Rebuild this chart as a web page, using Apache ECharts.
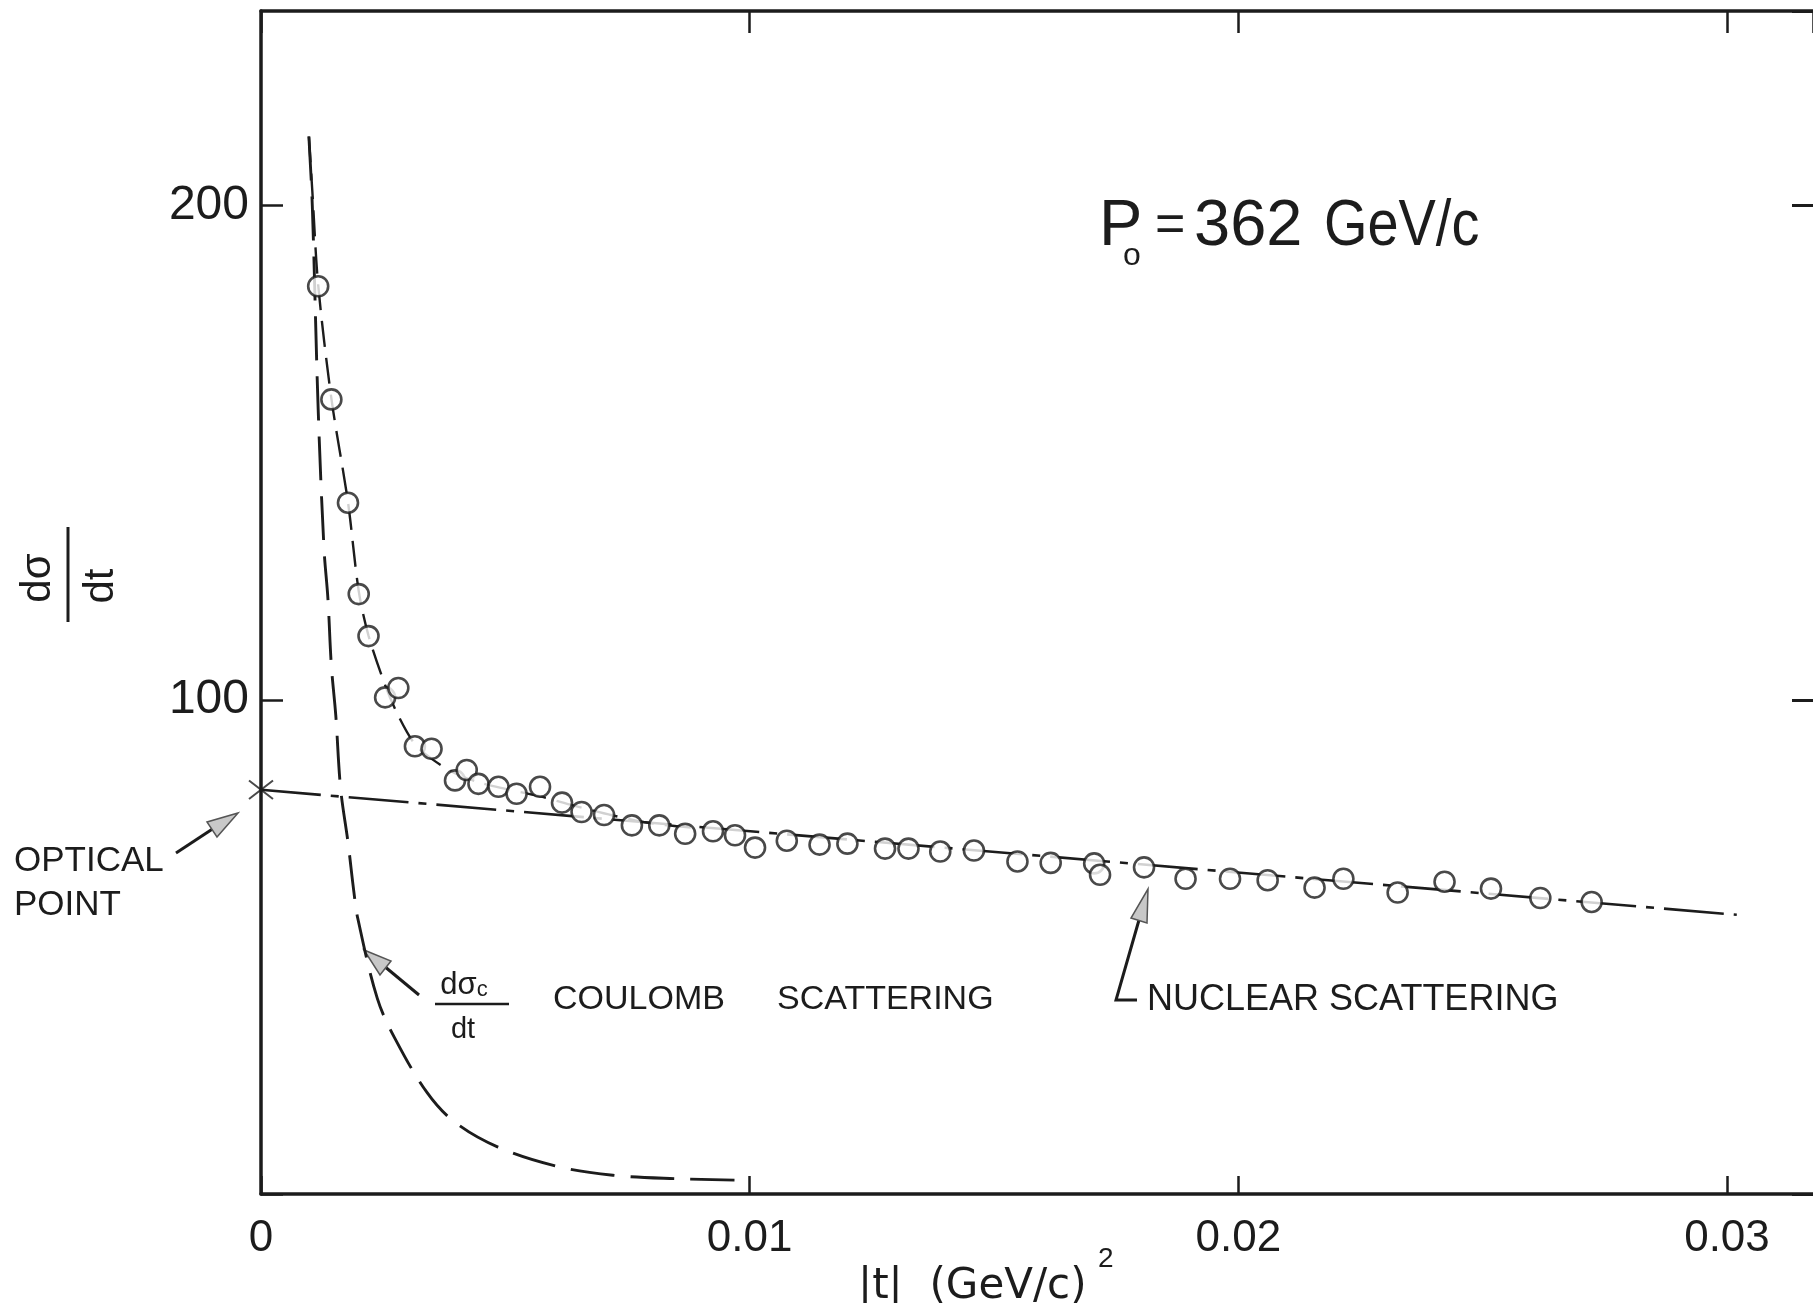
<!DOCTYPE html>
<html>
<head>
<meta charset="utf-8">
<script src="https://cdn.jsdelivr.net/npm/echarts@6.0.0/dist/echarts.min.js"></script>
<style>
  html, body { margin: 0; padding: 0; background: #ffffff; }
  #chart { width: 1813px; height: 1303px; }
</style>
</head>
<body>
<div id="chart"></div>
<script>
// ---- data ----
const xTickLabels = ['0', '0.01', '0.02', '0.03'];
const yTickLabels = ['100', '200'];

// measured points |t| (GeV/c)^2 and dσ/dt
const dataT = [0.00117, 0.00144, 0.00178, 0.0020, 0.0022, 0.00254, 0.00281, 0.00315, 0.00349, 0.00397,
  0.00421, 0.00445, 0.00486, 0.00523, 0.00571, 0.00616, 0.00656, 0.00702, 0.00759, 0.00815,
  0.00868, 0.00925, 0.0097, 0.01011, 0.01076, 0.01143, 0.0120, 0.01277, 0.01325, 0.0139,
  0.01459, 0.01548, 0.01616, 0.01705, 0.01717, 0.01807, 0.01892, 0.01983, 0.0206, 0.02156,
  0.02215, 0.02326, 0.02422, 0.02517, 0.02618, 0.02723];
const dataY = [183.7, 160.8, 139.9, 121.4, 112.9, 100.5, 102.4, 90.6, 90.1, 83.7,
  85.8, 83.0, 82.4, 81.0, 82.4, 79.2, 77.3, 76.7, 74.6, 74.6,
  72.9, 73.4, 72.6, 70.1, 71.5, 70.7, 70.9, 69.9, 69.9, 69.3,
  69.5, 67.3, 67.0, 66.9, 64.6, 66.1, 63.8, 63.8, 63.5, 62.0,
  63.8, 61.0, 63.2, 61.8, 59.9, 59.1];

// total fit curve (dashed) through the steep part
const fitT = [0.00098, 0.00105, 0.00117, 0.00144, 0.00178, 0.0020, 0.0022, 0.00254, 0.0028, 0.00315,
  0.0035, 0.0040, 0.0045, 0.0050, 0.0057, 0.0064, 0.0072, 0.0080, 0.0090];
const fitY = [214, 203, 184, 161, 140, 122, 113, 103, 97, 91,
  88, 85, 83.2, 82, 80.5, 78.6, 76.6, 75, 74];

// Coulomb scattering curve (dashed)
const coulT = [0.00098, 0.00105, 0.00117, 0.00129, 0.00137, 0.00144, 0.00153, 0.00163, 0.00178, 0.0019,
  0.00198, 0.00238, 0.00274, 0.0034, 0.00396, 0.00485, 0.00606, 0.0072, 0.0085, 0.0098];
const coulY = [214, 200, 158.8, 130.5, 120.4, 106.9, 96.9, 82, 71.2, 61.2,
  55.8, 39.6, 31.5, 20.5, 14.6, 9.5, 5.6, 3.8, 3.1, 2.8];

// nuclear scattering line (dash-dot) from the optical point
const nucT = [0, 0.0302];
const nucY = [81.8, 56.5];

// optical point
const opticalT = [0];
const opticalY = [81.8];

// ---- chart ----
const zip = (a, b) => a.map((v, i) => [v, b[i]]);
const INK = '#1c1c1c';
const FONT = '"Liberation Sans", Arial, sans-serif';

const chart = echarts.init(document.getElementById('chart'), null, { renderer: 'canvas' });

const xBase = { type: 'value', min: 0, max: 0.03176, interval: 0.01, splitLine: { show: false } };
const yBase = { type: 'value', min: 0, max: 239.4, interval: 100, splitLine: { show: false } };

const option = {
  backgroundColor: '#ffffff',
  animation: false,
  grid: { left: 261, top: 11, right: 0, bottom: 109, containLabel: false },
  xAxis: [
    Object.assign({}, xBase, {
      position: 'bottom',
      axisLine: { show: true, onZero: false, lineStyle: { color: INK, width: 3.5 } },
      axisTick: { show: true, inside: true, length: 18, lineStyle: { color: INK, width: 2.5 } },
      axisLabel: {
        show: true, margin: 23, color: INK, fontSize: 44, fontFamily: FONT,
        showMaxLabel: false,
        formatter: v => {
          const i = Math.round(v / 0.01);
          return (Math.abs(v - i * 0.01) < 1e-9 && i < xTickLabels.length) ? xTickLabels[i] : '';
        }
      }
    }),
    Object.assign({}, xBase, {
      position: 'top',
      axisLine: { show: true, onZero: false, lineStyle: { color: INK, width: 3.5 } },
      axisTick: { show: true, inside: true, length: 22, lineStyle: { color: INK, width: 2.5 } },
      axisLabel: { show: false }
    })
  ],
  yAxis: [
    Object.assign({}, yBase, {
      position: 'left',
      axisLine: { show: true, onZero: false, lineStyle: { color: INK, width: 3.5 } },
      axisTick: { show: true, inside: true, length: 22, lineStyle: { color: INK, width: 2.5 } },
      axisLabel: {
        show: true, margin: 12, color: INK, fontSize: 48, fontFamily: FONT,
        showMaxLabel: false,
        formatter: v => {
          const s = String(Math.round(v));
          return yTickLabels.indexOf(s) >= 0 ? s : '';
        }
      }
    }),
    Object.assign({}, yBase, {
      position: 'right',
      axisLine: { show: false, onZero: false },
      axisTick: { show: true, inside: true, length: 21, lineStyle: { color: INK, width: 3 } },
      axisLabel: { show: false }
    })
  ],
  series: [
    {
      name: 'nuclear', type: 'line', xAxisIndex: 0, yAxisIndex: 0,
      data: zip(nucT, nucY), showSymbol: false, symbol: 'none',
      lineStyle: { color: INK, width: 2.6, type: [60, 10, 8, 10] }, z: 2
    },
    {
      name: 'coulomb', type: 'line', xAxisIndex: 0, yAxisIndex: 0,
      data: zip(coulT, coulY), showSymbol: false, symbol: 'none', smooth: 0.35,
      lineStyle: { color: INK, width: 2.9, type: [44, 16] }, z: 2
    },
    {
      name: 'fit', type: 'line', xAxisIndex: 0, yAxisIndex: 0,
      data: zip(fitT, fitY), showSymbol: false, symbol: 'none', smooth: 0.3,
      lineStyle: { color: INK, width: 2.4, type: [26, 11] }, z: 2
    },
    {
      name: 'data', type: 'scatter', xAxisIndex: 0, yAxisIndex: 0,
      data: zip(dataT, dataY), symbol: 'circle', symbolSize: 20,
      itemStyle: { color: '#ffffff', borderColor: INK, borderWidth: 2.6 }, z: 5
    },
    {
      name: 'optical', type: 'scatter', xAxisIndex: 0, yAxisIndex: 0,
      data: zip(opticalT, opticalY), clip: false,
      symbol: 'path://M0,0L20,20M20,0L0,20M10,-3L10,23', symbolSize: 24,
      itemStyle: { color: 'none', borderColor: INK, borderWidth: 2 }, z: 6
    }
  ],
  graphic: [
    // y-axis title dσ/dt (rotated fraction)
    { type: 'text', x: 38, y: 578, rotation: Math.PI / 2,
      style: { text: 'dσ', font: '42px ' + FONT, fill: INK, align: 'center', verticalAlign: 'middle' } },
    { type: 'line', shape: { x1: 68, y1: 527, x2: 68, y2: 622 }, style: { stroke: INK, lineWidth: 3 } },
    { type: 'text', x: 101, y: 586, rotation: Math.PI / 2,
      style: { text: 'dt', font: '42px ' + FONT, fill: INK, align: 'center', verticalAlign: 'middle' } },

    // x-axis title
    { type: 'text', x: 858, y: 1287,
      style: { text: '|t|  (GeV/c)', font: '42px "DejaVu Sans", ' + FONT, fill: INK, align: 'left', verticalAlign: 'middle' } },
    { type: 'text', x: 1098, y: 1259,
      style: { text: '2', font: '28px ' + FONT, fill: INK, align: 'left', verticalAlign: 'middle' } },

    // P0 = 362 GeV/c
    { type: 'text', x: 1099, y: 227,
      style: { text: 'P', font: '65px ' + FONT, fill: INK, align: 'left', verticalAlign: 'middle' } },
    { type: 'text', x: 1132, y: 256,
      style: { text: 'o', font: '32px ' + FONT, fill: INK, align: 'center', verticalAlign: 'middle' } },
    { type: 'text', x: 1155, y: 227,
      style: { text: '=', font: '52px ' + FONT, fill: INK, align: 'left', verticalAlign: 'middle' } },
    { type: 'text', x: 1194, y: 227,
      style: { text: '362', font: '65px ' + FONT, fill: INK, align: 'left', verticalAlign: 'middle' } },
    { type: 'text', x: 1324, y: 227, scaleX: 0.86,
      style: { text: 'GeV/c', font: '65px ' + FONT, fill: INK, align: 'left', verticalAlign: 'middle' } },

    // OPTICAL POINT + arrow
    { type: 'text', x: 14, y: 861,
      style: { text: 'OPTICAL', font: '35px ' + FONT, fill: INK, align: 'left', verticalAlign: 'middle' } },
    { type: 'text', x: 14, y: 905,
      style: { text: 'POINT', font: '35px ' + FONT, fill: INK, align: 'left', verticalAlign: 'middle' } },
    { type: 'line', shape: { x1: 176, y1: 853, x2: 214, y2: 828 }, style: { stroke: INK, lineWidth: 3 } },
    { type: 'polygon', shape: { points: [[238, 813], [217, 837], [207, 822]] },
      style: { fill: '#c8c8c8', stroke: '#555', lineWidth: 1.5 } },

    // Coulomb annotation
    { type: 'line', shape: { x1: 419, y1: 995, x2: 384, y2: 966 }, style: { stroke: INK, lineWidth: 3 } },
    { type: 'polygon', shape: { points: [[364, 950], [391, 961], [380, 975]] },
      style: { fill: '#c8c8c8', stroke: '#555', lineWidth: 1.5 } },
    { type: 'text', x: 464, y: 985,
      style: { text: '{a|dσ}{b|c}', font: '31px ' + FONT, fill: INK, align: 'center', verticalAlign: 'middle',
        rich: { a: { fontSize: 31, fontFamily: FONT, fill: INK }, b: { fontSize: 22, fontFamily: FONT, fill: INK, padding: [10, 0, 0, 0] } } } },
    { type: 'line', shape: { x1: 435, y1: 1004, x2: 509, y2: 1004 }, style: { stroke: INK, lineWidth: 2.5 } },
    { type: 'text', x: 463, y: 1030,
      style: { text: 'dt', font: '29px ' + FONT, fill: INK, align: 'center', verticalAlign: 'middle' } },
    { type: 'text', x: 553, y: 1000,
      style: { text: 'COULOMB', font: '34px ' + FONT, fill: INK, align: 'left', verticalAlign: 'middle' } },
    { type: 'text', x: 777, y: 1000,
      style: { text: 'SCATTERING', font: '34px ' + FONT, fill: INK, align: 'left', verticalAlign: 'middle' } },

    // Nuclear annotation
    { type: 'polyline', shape: { points: [[1137, 1000], [1116, 1000], [1139, 920]] },
      style: { stroke: INK, lineWidth: 3, fill: null } },
    { type: 'polygon', shape: { points: [[1148, 889], [1147, 923], [1131, 918]] },
      style: { fill: '#c8c8c8', stroke: '#555', lineWidth: 1.5 } },
    { type: 'text', x: 1147, y: 1000,
      style: { text: 'NUCLEAR SCATTERING', font: '36px ' + FONT, fill: INK, align: 'left', verticalAlign: 'middle' } }
  ]
};

chart.setOption(option);
</script>
</body>
</html>
